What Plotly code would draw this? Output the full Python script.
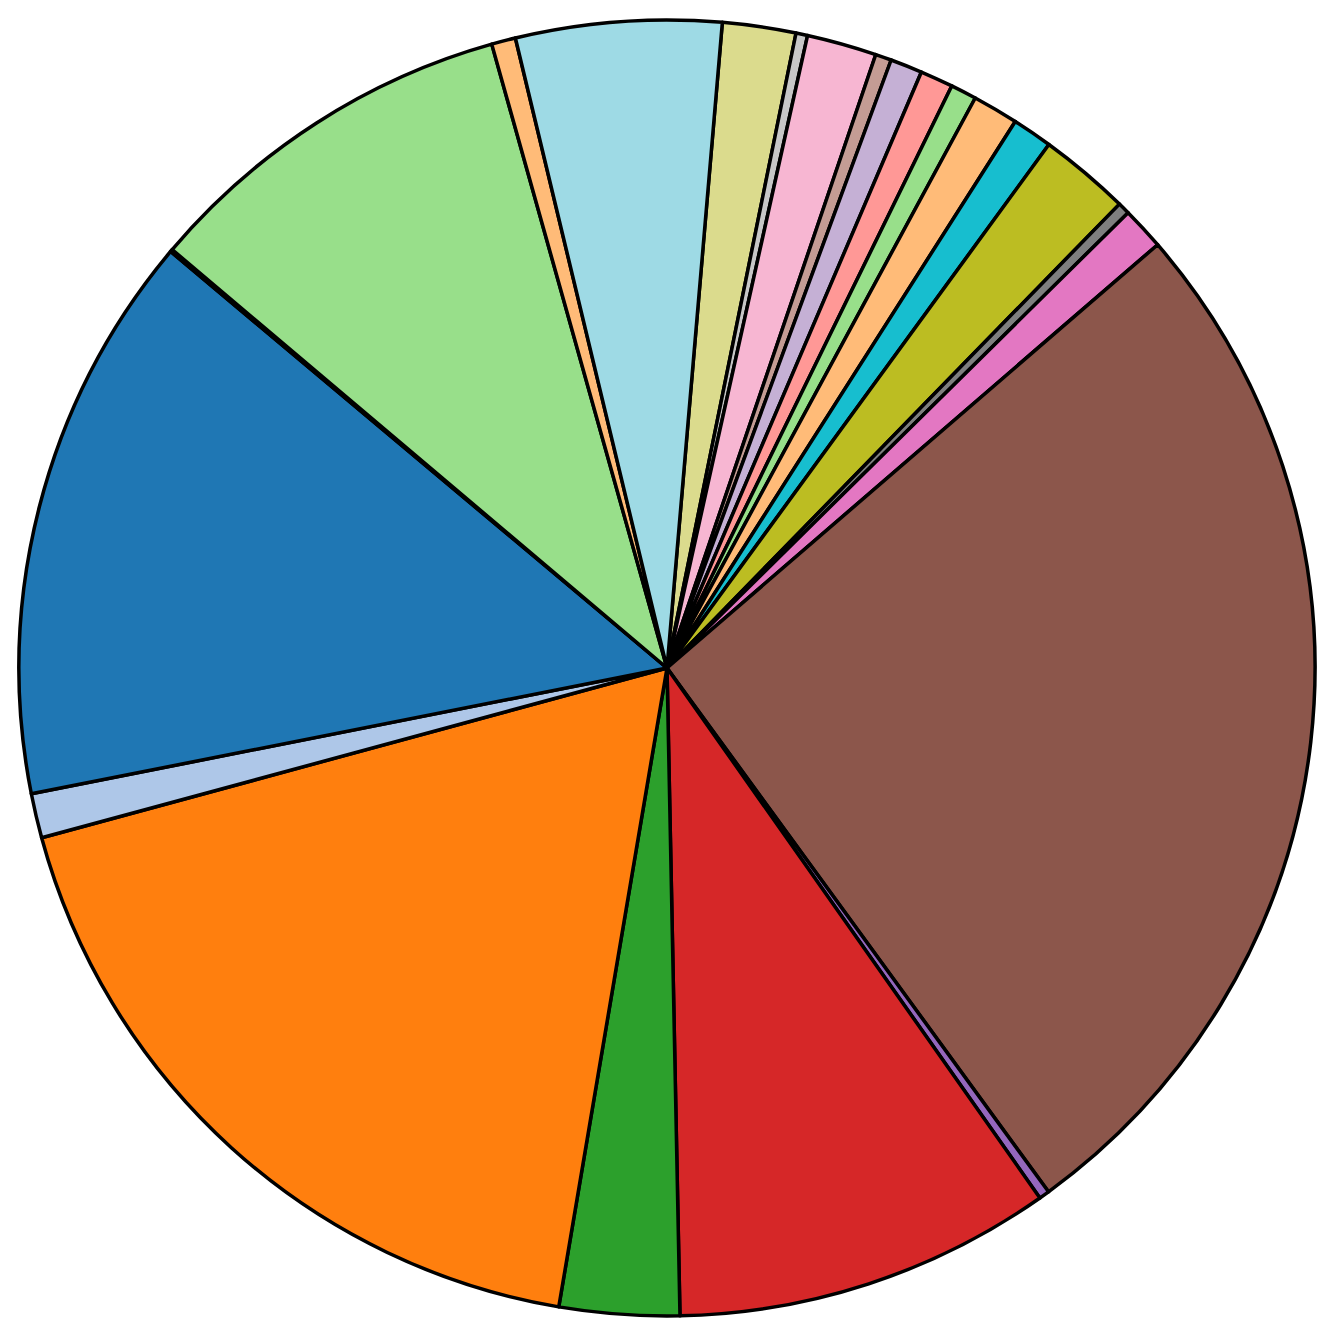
import plotly.graph_objects as go

# slices in clockwise order, starting just right of 12 o'clock
labels = [
    "s01", "s02", "s03", "s04", "s05", "s06", "s07", "s08", "s09", "s10",
    "s11", "s12", "s13", "s14", "s15", "s16", "s17", "s18", "s19", "s20",
    "s21", "s22", "s23",
]
values = [
    1.83, 0.29, 1.74, 0.40, 0.80, 0.82, 0.65, 1.14, 1.00, 2.27,
    0.30, 1.07, 26.31, 0.26, 9.44, 2.99, 18.11, 1.11, 14.22, 0.06,
    9.47, 0.60, 5.12,
]
colors = [
    "#dbdb8d", "#c7c7c7", "#f7b6d2", "#c49c94", "#c5b0d5", "#ff9896",
    "#98df8a", "#ffbb78", "#17becf", "#bcbd22", "#7f7f7f", "#e377c2",
    "#8c564b", "#9467bd", "#d62728", "#2ca02c", "#ff7f0e", "#aec7e8",
    "#1f77b4", "#aec7e8", "#98df8a", "#ffbb78", "#9edae5",
]

fig = go.Figure(go.Pie(
    labels=labels,
    values=values,
    sort=False,
    direction="clockwise",
    rotation=4.9,
    marker=dict(colors=colors, line=dict(color="black", width=3.5)),
    textinfo="none",
    hoverinfo="label+percent",
    showlegend=False,
))

fig.update_layout(
    width=1342,
    height=1329,
    margin=dict(l=11, r=35, t=12, b=21),
    paper_bgcolor="white",
    plot_bgcolor="white",
)

fig.write_html("out.html")
